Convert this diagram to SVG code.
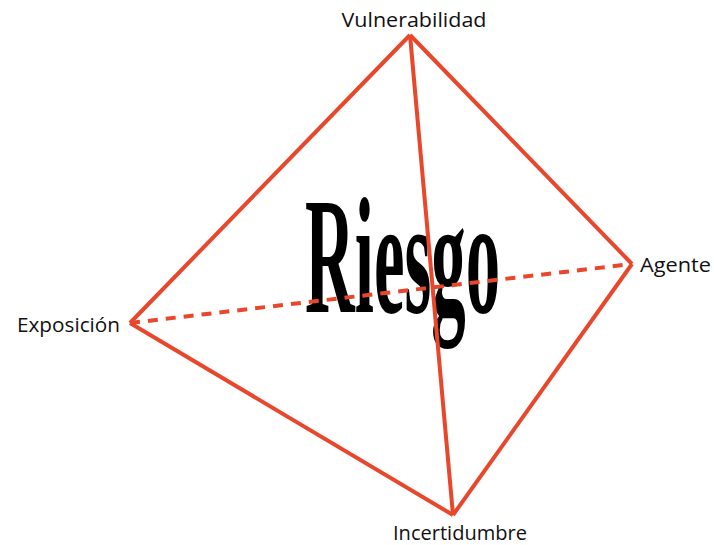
<svg xmlns="http://www.w3.org/2000/svg" width="714" height="545" viewBox="0 0 714 545">
<style>
.edge{stroke:#E8472C;stroke-width:4;fill:none;stroke-linejoin:miter;stroke-linecap:butt}
.dash{stroke-dasharray:10 8}
.lbl{font-family:"Open Sans","Liberation Sans",sans-serif;font-size:20.5px;font-weight:500;fill:#111}
.big{font-family:"Liberation Serif","Times New Roman",serif;font-weight:bold;font-size:166px;fill:#000}
</style>
<rect width="714" height="545" fill="#fff"/>
<g id="center-label">
<text class="big" transform="translate(305,312) scale(0.415,1)">Riesgo</text>
</g>
<g id="connectors">
<line class="edge dash" x1="130" y1="323" x2="632" y2="264"/>
<line class="edge" x1="410" y1="35" x2="130" y2="323"/>
<line class="edge" x1="410" y1="35" x2="632" y2="264"/>
<line class="edge" x1="410" y1="35" x2="453" y2="515"/>
<line class="edge" x1="130" y1="323" x2="453" y2="515"/>
<line class="edge" x1="632" y1="264" x2="453" y2="515"/>
</g>
<g id="vulnerabilidad"><text class="lbl" x="414" y="27" text-anchor="middle" textLength="145" lengthAdjust="spacingAndGlyphs">Vulnerabilidad</text></g>
<g id="exposicion"><text class="lbl" x="17" y="332" textLength="103" lengthAdjust="spacingAndGlyphs">Exposición</text></g>
<g id="incertidumbre"><text class="lbl" x="393" y="540" textLength="134" lengthAdjust="spacingAndGlyphs">Incertidumbre</text></g>
<g id="agente"><text class="lbl" x="640" y="272" textLength="71" lengthAdjust="spacingAndGlyphs">Agente</text></g>
</svg>
